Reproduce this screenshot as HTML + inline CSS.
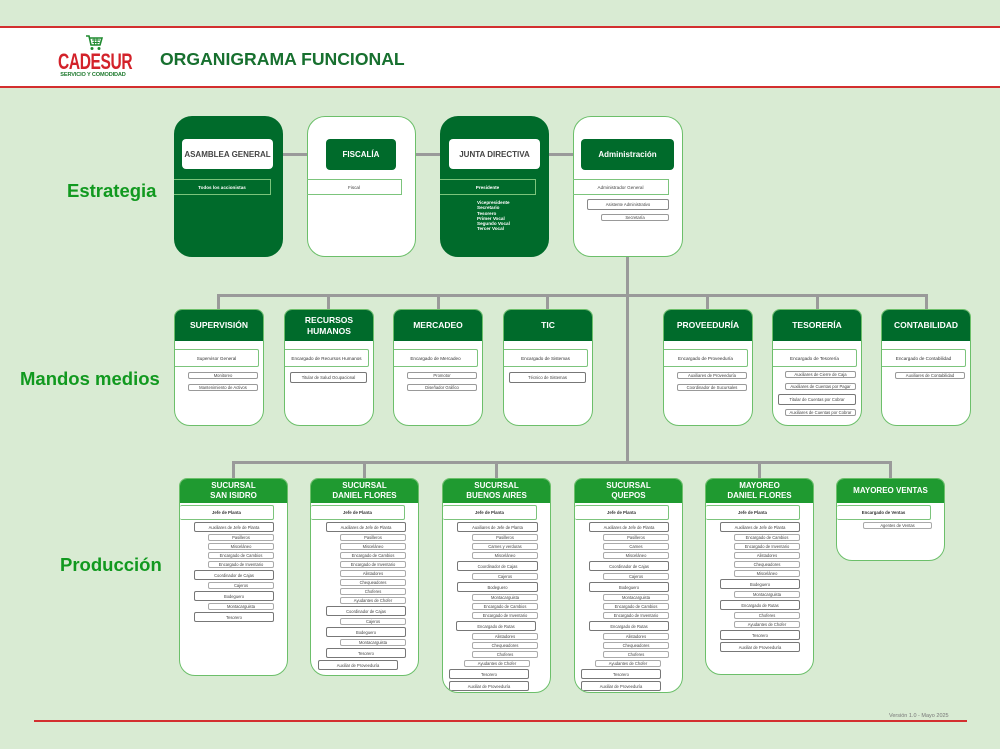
<!DOCTYPE html>
<html><head><meta charset="utf-8">
<style>
*{box-sizing:border-box;margin:0;padding:0}
body{width:1000px;height:749px;background:#d9ebd3;position:relative;overflow:hidden;font-family:"Liberation Sans",sans-serif}
.a{position:absolute}
.ln{position:absolute;background:#9a9a9a}
.sb{position:absolute;border-radius:18px;border:1.5px solid #6cbf6a}
.dk{background:#006b2b}
.wh{background:#fff}
.sh{position:absolute;display:flex;align-items:center;justify-content:center;font-weight:bold;font-size:8px;border-radius:4px;white-space:nowrap}
.bar{position:absolute;display:flex;align-items:center;justify-content:center;font-size:4.6px;font-weight:bold;border:1.2px solid #7cc47c;border-left:none}
.b{position:absolute;background:#fff;border:1.5px solid #6cbf6a;border-radius:8px 8px 16px 16px;overflow:hidden}
.hd{background:#006b2b;color:#fff;font-weight:bold;font-size:8.5px;display:flex;align-items:center;justify-content:center;text-align:center;line-height:1.2}
.ph{background:#1f9a30;color:#fff;font-weight:bold;font-size:8px;display:flex;align-items:center;justify-content:center;text-align:center;line-height:1.25;height:24px}
.mj{position:absolute;left:0;height:18px;border:1.2px solid #7cc47c;border-left:none;border-radius:0 2px 2px 0;font-size:4.6px;color:#333;display:flex;align-items:center;justify-content:center}
.mi{position:absolute;height:7px;border:1px solid #999;border-radius:2px;font-size:4.2px;color:#444;display:flex;align-items:center;justify-content:center;background:#fff}
.L{position:absolute;top:26px;left:0;right:0}
.L div{border-radius:2px;font-size:4.1px;color:#444;display:flex;align-items:center;justify-content:center;background:#fff;margin-top:2px;white-space:nowrap}
.L .j{height:15px;width:94px;border:1.2px solid #7cc47c;border-left:none;margin-top:0;font-weight:bold;color:#333;font-size:4.3px}
.L .g{height:10px;width:80px;margin-left:14px;border:1.2px solid #777}
.L .s{height:7px;width:66px;margin-left:28px;border:1px solid #aaa}
.lab{position:absolute;color:#11991f;font-weight:bold;font-size:18.5px}
</style></head><body>

<!-- header -->
<div class="a" style="left:0;top:26px;width:1000px;height:62px;background:#fff;border-top:2px solid #d32f2f;border-bottom:2px solid #d32f2f"></div>
<svg class="a" style="left:85px;top:35px" width="18" height="16" viewBox="0 0 18 16">
<path d="M1 1 L4 1 L6 10 L15 10 L17 3 L5 3" fill="none" stroke="#1f8a2f" stroke-width="1.6"/>
<path d="M7 5 L15 5 M7.5 7.5 L14.5 7.5 M9 3 L9.5 10 M12 3 L12 10" stroke="#1f8a2f" stroke-width="1"/>
<circle cx="7" cy="13.5" r="1.5" fill="#1f8a2f"/><circle cx="14" cy="13.5" r="1.5" fill="#1f8a2f"/></svg>
<div class="a" style="left:58px;top:50px;font-size:21px;font-weight:bold;color:#d3222a;letter-spacing:-0.5px;transform:scale(0.74,1.05);transform-origin:left top;white-space:nowrap">CADESUR</div>
<div class="a" style="left:55px;top:72px;width:76px;font-size:5.6px;font-weight:bold;color:#1f7a2f;text-align:center;letter-spacing:-0.15px;white-space:nowrap">SERVICIO Y COMODIDAD</div>
<div class="a" style="left:160px;top:49px;font-size:17.6px;font-weight:bold;color:#17702f;white-space:nowrap">ORGANIGRAMA FUNCIONAL</div>

<!-- labels -->
<div class="lab" style="left:67px;top:180px">Estrategia</div>
<div class="lab" style="left:20px;top:368px">Mandos medios</div>
<div class="lab" style="left:60px;top:554px">Producción</div>

<!-- connectors -->
<div class="ln" style="left:280px;top:153px;width:295px;height:3px"></div>
<div class="ln" style="left:626px;top:255px;width:3px;height:208px"></div>
<div class="ln" style="left:217px;top:294px;width:711px;height:3px"></div>
<div class="ln" style="left:217px;top:294px;width:3px;height:16px"></div>
<div class="ln" style="left:327px;top:294px;width:3px;height:16px"></div>
<div class="ln" style="left:437px;top:294px;width:3px;height:16px"></div>
<div class="ln" style="left:546px;top:294px;width:3px;height:16px"></div>
<div class="ln" style="left:706px;top:294px;width:3px;height:16px"></div>
<div class="ln" style="left:816px;top:294px;width:3px;height:16px"></div>
<div class="ln" style="left:925px;top:294px;width:3px;height:16px"></div>
<div class="ln" style="left:232px;top:461px;width:659px;height:3px"></div>
<div class="ln" style="left:232px;top:461px;width:3px;height:18px"></div>
<div class="ln" style="left:363px;top:461px;width:3px;height:18px"></div>
<div class="ln" style="left:495px;top:461px;width:3px;height:18px"></div>
<div class="ln" style="left:758px;top:461px;width:3px;height:18px"></div>
<div class="ln" style="left:889px;top:461px;width:3px;height:18px"></div>

<!-- strategy boxes -->
<div class="sb dk" style="left:174px;top:116px;width:109px;height:141px;border-color:#006b2b"></div>
<div class="sh wh" style="left:182px;top:139px;width:91px;height:30px;color:#444">ASAMBLEA GENERAL</div>
<div class="bar" style="left:174px;top:179px;width:97px;height:16px;color:#fff">Todos los accionistas</div>

<div class="sb wh" style="left:307px;top:116px;width:109px;height:141px"></div>
<div class="sh dk" style="left:326px;top:139px;width:70px;height:31px;color:#fff">FISCALÍA</div>
<div class="bar" style="left:307px;top:179px;width:95px;height:16px;color:#444;font-weight:normal">Fiscal</div>

<div class="sb dk" style="left:440px;top:116px;width:109px;height:141px;border-color:#006b2b"></div>
<div class="sh wh" style="left:449px;top:139px;width:91px;height:30px;color:#444">JUNTA DIRECTIVA</div>
<div class="bar" style="left:440px;top:179px;width:96px;height:16px;color:#fff">Presidente</div>
<div class="a" style="left:477px;top:200px;font-size:4.6px;line-height:5.3px;color:#fff;font-weight:bold">Vicepresidente<br>Secretario<br>Tesorero<br>Primer Vocal<br>Segundo Vocal<br>Tercer Vocal</div>

<div class="sb wh" style="left:573px;top:116px;width:110px;height:141px"></div>
<div class="sh dk" style="left:581px;top:139px;width:93px;height:31px;color:#fff">Administración</div>
<div class="bar" style="left:573px;top:179px;width:96px;height:16px;color:#444;font-weight:normal">Administrador General</div>
<div class="mi" style="left:587px;top:199px;width:82px;height:11px;border-color:#888">Asistente Administrativo</div>
<div class="mi" style="left:601px;top:214px;width:68px;height:7px">Secretaría</div>

<!-- mandos medios -->
<div class="b" style="left:174px;top:309px;width:90px;height:117px"><div class="hd" style="height:31px">SUPERVISIÓN</div>
<div class="mj" style="top:39px;width:84px">Supervisor General</div>
<div class="mi" style="left:13px;top:62px;width:70px">Monitoreo</div>
<div class="mi" style="left:13px;top:74px;width:70px">Mantenimiento de Activos</div></div>

<div class="b" style="left:284px;top:309px;width:90px;height:117px"><div class="hd" style="height:31px">RECURSOS<br>HUMANOS</div>
<div class="mj" style="top:39px;width:84px">Encargado de Recursos Humanos</div>
<div class="mi" style="left:5px;top:62px;width:77px;height:11px;border-color:#777">Titular de Salud Ocupacional</div></div>

<div class="b" style="left:393px;top:309px;width:90px;height:117px"><div class="hd" style="height:31px">MERCADEO</div>
<div class="mj" style="top:39px;width:84px">Encargado de Mercadeo</div>
<div class="mi" style="left:13px;top:62px;width:70px">Promotor</div>
<div class="mi" style="left:13px;top:74px;width:70px">Diseñador Gráfico</div></div>

<div class="b" style="left:503px;top:309px;width:90px;height:117px"><div class="hd" style="height:31px">TIC</div>
<div class="mj" style="top:39px;width:84px">Encargado de Sistemas</div>
<div class="mi" style="left:5px;top:62px;width:77px;height:11px;border-color:#777">Técnico de Sistemas</div></div>

<div class="b" style="left:663px;top:309px;width:90px;height:117px"><div class="hd" style="height:31px">PROVEEDURÍA</div>
<div class="mj" style="top:39px;width:84px">Encargado de Proveeduría</div>
<div class="mi" style="left:13px;top:62px;width:70px">Auxiliares de Proveeduría</div>
<div class="mi" style="left:13px;top:74px;width:70px">Coordinador de Sucursales</div></div>

<div class="b" style="left:772px;top:309px;width:90px;height:117px"><div class="hd" style="height:31px">TESORERÍA</div>
<div class="mj" style="top:39px;width:84px">Encargado de Tesorería</div>
<div class="mi" style="left:12px;top:61px;width:71px">Auxiliares de Cierre de Caja</div>
<div class="mi" style="left:12px;top:73px;width:71px">Auxiliares de Cuentas por Pagar</div>
<div class="mi" style="left:5px;top:84px;width:78px;height:11px;border-color:#777">Titular de Cuentas por Cobrar</div>
<div class="mi" style="left:12px;top:99px;width:71px">Auxiliares de Cuentas por Cobrar</div></div>

<div class="b" style="left:881px;top:309px;width:90px;height:117px"><div class="hd" style="height:31px">CONTABILIDAD</div>
<div class="mj" style="top:39px;width:84px">Encargado de Contabilidad</div>
<div class="mi" style="left:13px;top:62px;width:70px">Auxiliares de Contabilidad</div></div>

<!-- production -->
<div class="b" style="left:179px;top:478px;width:109px;height:198px"><div class="ph">SUCURSAL<br>SAN ISIDRO</div>
<div class="L"><div class="j">Jefe de Planta</div><div class="g">Auxiliares de Jefe de Planta</div><div class="s">Pasilleros</div><div class="s">Misceláneo</div><div class="s">Encargado de Cambios</div><div class="s">Encargado de Inventario</div><div class="g">Coordinador de Cajas</div><div class="s">Cajeros</div><div class="g">Bodeguero</div><div class="s">Montacarguista</div><div class="g">Tesorero</div></div></div>

<div class="b" style="left:310px;top:478px;width:109px;height:198px"><div class="ph">SUCURSAL<br>DANIEL FLORES</div>
<div class="L"><div class="j">Jefe de Planta</div><div class="g" style="margin-left:15px">Auxiliares de Jefe de Planta</div><div class="s" style="margin-left:29px">Pasilleros</div><div class="s" style="margin-left:29px">Misceláneo</div><div class="s" style="margin-left:29px">Encargado de Cambios</div><div class="s" style="margin-left:29px">Encargado de Inventario</div><div class="s" style="margin-left:29px">Alistadores</div><div class="s" style="margin-left:29px">Chequeadores</div><div class="s" style="margin-left:29px">Choferes</div><div class="s" style="margin-left:29px">Ayudantes de Chofer</div><div class="g" style="margin-left:15px">Coordinador de Cajas</div><div class="s" style="margin-left:29px">Cajeros</div><div class="g" style="margin-left:15px">Bodeguero</div><div class="s" style="margin-left:29px">Montacarguista</div><div class="g" style="margin-left:15px">Tesorero</div><div class="g" style="margin-left:7px">Auxiliar de Proveeduría</div></div></div>

<div class="b" style="left:442px;top:478px;width:109px;height:215px"><div class="ph">SUCURSAL<br>BUENOS AIRES</div>
<div class="L"><div class="j">Jefe de Planta</div><div class="g" style="width:81px">Auxiliares de Jefe de Planta</div><div class="s" style="margin-left:29px">Pasilleros</div><div class="s" style="margin-left:29px">Carnes y verduras</div><div class="s" style="margin-left:29px">Misceláneo</div><div class="g" style="width:81px">Coordinador de Cajas</div><div class="s" style="margin-left:29px">Cajeros</div><div class="g" style="width:81px">Bodeguero</div><div class="s" style="margin-left:29px">Montacarguista</div><div class="s" style="margin-left:29px">Encargado de Cambios</div><div class="s" style="margin-left:29px">Encargado de Inventario</div><div class="g" style="margin-left:13px">Encargado de Rutas</div><div class="s" style="margin-left:29px">Alistadores</div><div class="s" style="margin-left:29px">Chequeadores</div><div class="s" style="margin-left:29px">Choferes</div><div class="s" style="margin-left:21px">Ayudantes de Chofer</div><div class="g" style="margin-left:6px">Tesorero</div><div class="g" style="margin-left:6px">Auxiliar de Proveeduría</div></div></div>

<div class="b" style="left:574px;top:478px;width:109px;height:215px"><div class="ph">SUCURSAL<br>QUEPOS</div>
<div class="L"><div class="j">Jefe de Planta</div><div class="g">Auxiliares de Jefe de Planta</div><div class="s">Pasilleros</div><div class="s">Carnes</div><div class="s">Misceláneo</div><div class="g">Coordinador de Cajas</div><div class="s">Cajeros</div><div class="g">Bodeguero</div><div class="s">Montacarguista</div><div class="s">Encargado de Cambios</div><div class="s">Encargado de Inventario</div><div class="g">Encargado de Rutas</div><div class="s">Alistadores</div><div class="s">Chequeadores</div><div class="s">Choferes</div><div class="s" style="margin-left:20px">Ayudantes de Chofer</div><div class="g" style="margin-left:6px">Tesorero</div><div class="g" style="margin-left:6px">Auxiliar de Proveeduría</div></div></div>

<div class="b" style="left:705px;top:478px;width:109px;height:197px"><div class="ph">MAYOREO<br>DANIEL FLORES</div>
<div class="L"><div class="j">Jefe de Planta</div><div class="g">Auxiliares de Jefe de Planta</div><div class="s">Encargado de Cambios</div><div class="s">Encargado de Inventario</div><div class="s">Alistadores</div><div class="s">Chequeadores</div><div class="s">Misceláneo</div><div class="g">Bodeguero</div><div class="s">Montacarguista</div><div class="g">Encargado de Rutas</div><div class="s">Choferes</div><div class="s">Ayudantes de Chofer</div><div class="g">Tesorero</div><div class="g">Auxiliar de Proveeduría</div></div></div>

<div class="b" style="left:836px;top:478px;width:109px;height:83px"><div class="ph">MAYOREO VENTAS</div>
<div class="L"><div class="j">Encargado de Ventas</div><div class="s" style="margin-left:26px;width:69px">Agentes de Ventas</div></div></div>

<!-- footer -->
<div class="a" style="left:34px;top:720px;width:933px;height:2px;background:#d32f2f"></div>
<div class="a" style="left:889px;top:713px;font-size:5.5px;color:#777">Versión 1.0 - Mayo 2025</div>
</body></html>
